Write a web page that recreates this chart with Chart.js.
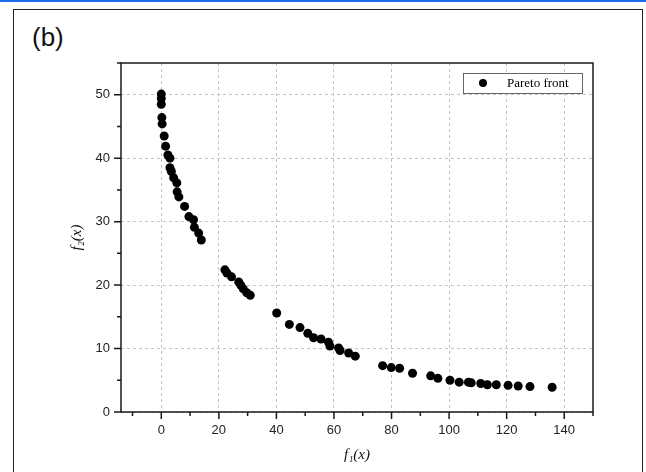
<!DOCTYPE html>
<html>
<head>
<meta charset="utf-8">
<script src="https://cdn.jsdelivr.net/npm/chart.js@4.4.0/dist/chart.umd.min.js"></script>
<style>
  html, body { margin: 0; padding: 0; background: #fff; }
  #wrap { position: relative; width: 646px; height: 472px; overflow: hidden; background: #fff; }
  #topline { position: absolute; left: 0; top: 0; width: 646px; height: 2px; background: #1a6fe8; }
  #frame { position: absolute; left: 13px; top: 9px; width: 628px; height: 480px; border: 1.5px solid #222; }
  #tag { position: absolute; left: 32px; top: 24px; font: 26px 'Liberation Sans', Arial, sans-serif; line-height: 1; color: #111; }
  canvas { position: absolute; left: 0; top: 0; }
</style>
</head>
<body>
<div id="wrap">
  <div id="topline"></div>
  <div id="frame"></div>
  <div id="tag">(b)</div>
  <canvas id="paretoChart" width="646" height="472"></canvas>
</div>
<script>
// Pareto front points
const f1Values = [
    0.0, 0.0, 0.0, 0.2, 0.3, 1.0, 1.5, 2.3, 3.0, 3.0, 3.5, 4.3, 5.4, 5.5, 6.1,
    8.1, 9.6, 11.2, 11.5, 13.0, 13.9,
    22.1, 22.8, 24.4, 26.9, 27.6, 28.5, 29.7, 30.9,
    40.1, 44.5, 48.2, 50.9, 52.9, 55.5, 58.1, 58.6, 61.6, 62.1, 65.1, 67.4,
    76.9, 79.9, 82.8, 87.3, 93.6, 96.1, 100.3, 103.5, 106.7, 107.7, 111.0,
    113.3, 116.4, 120.5, 124.0, 128.1, 135.8
];
const f2Values = [
    50.1, 49.4, 48.5, 46.4, 45.4, 43.5, 41.9, 40.5, 40.0, 38.5, 37.9, 36.9, 36.1, 34.7, 33.9,
    32.4, 30.8, 30.3, 29.1, 28.2, 27.1,
    22.4, 21.9, 21.3, 20.5, 20.0, 19.4, 18.8, 18.4,
    15.6, 13.8, 13.3, 12.4, 11.7, 11.5, 11.0, 10.4, 10.1, 9.7, 9.3, 8.8,
    7.3, 7.0, 6.9, 6.1, 5.7, 5.3, 5.0, 4.7, 4.7, 4.6, 4.5,
    4.3, 4.3, 4.2, 4.1, 4.0, 3.9
];

// Axis ticks
const xMajorTicks = [0, 20, 40, 60, 80, 100, 120, 140];
const xMinorTicks = [-10, 10, 30, 50, 70, 90, 110, 130, 150];
const yMajorTicks = [0, 10, 20, 30, 40, 50];
const yMinorTicks = [5, 15, 25, 35, 45, 55];

const seriesLabel = 'Pareto front';

const tickFont = { family: "'Liberation Sans', Arial, sans-serif", size: 13 };
const titleFont = { family: "'Liberation Serif', 'Times New Roman', serif", size: 15, style: 'italic' };

// Plot frame, outward tick marks and the in-plot legend
const framePlugin = {
    id: 'frame',
    afterDraw(chart) {
        const { ctx, chartArea: a, scales: { x, y } } = chart;
        ctx.save();
        ctx.strokeStyle = '#1a1a1a';
        ctx.lineWidth = 1.5;
        ctx.strokeRect(a.left, a.top, a.right - a.left, a.bottom - a.top);

        ctx.beginPath();
        xMajorTicks.forEach(v => {
            const px = x.getPixelForValue(v);
            ctx.moveTo(px, a.bottom); ctx.lineTo(px, a.bottom + 7);
        });
        xMinorTicks.forEach(v => {
            const px = x.getPixelForValue(v);
            ctx.moveTo(px, a.bottom); ctx.lineTo(px, a.bottom + 4);
        });
        yMajorTicks.forEach(v => {
            const py = y.getPixelForValue(v);
            ctx.moveTo(a.left, py); ctx.lineTo(a.left - 7, py);
        });
        yMinorTicks.forEach(v => {
            const py = y.getPixelForValue(v);
            ctx.moveTo(a.left, py); ctx.lineTo(a.left - 4, py);
        });
        ctx.stroke();

        // legend box
        const lx = a.right - 130, ly = a.top + 10, lw = 119, lh = 20;
        ctx.fillStyle = '#fff';
        ctx.fillRect(lx, ly, lw, lh);
        ctx.strokeStyle = '#666';
        ctx.lineWidth = 1;
        ctx.strokeRect(lx + 0.5, ly + 0.5, lw, lh);
        ctx.fillStyle = '#000';
        ctx.beginPath();
        ctx.arc(lx + 20, ly + 10, 4, 0, Math.PI * 2);
        ctx.fill();
        ctx.font = "13px 'Liberation Serif', 'Times New Roman', serif";
        ctx.textBaseline = 'middle';
        ctx.fillText(seriesLabel, lx + 44, ly + 11);
        ctx.restore();
    }
};

new Chart(document.getElementById('paretoChart'), {
    type: 'scatter',
    data: {
        datasets: [{
            label: seriesLabel,
            data: f1Values.map((v, i) => ({ x: v, y: f2Values[i] })),
            backgroundColor: '#000',
            borderWidth: 0,
            pointRadius: 4.5,
            pointHoverRadius: 4.5
        }]
    },
    options: {
        responsive: false,
        animation: false,
        devicePixelRatio: 1,
        layout: {
            padding: { left: 0, right: 53, top: 63, bottom: 0 }
        },
        plugins: {
            legend: { display: false },
            tooltip: { enabled: false }
        },
        scales: {
            x: {
                type: 'linear',
                min: -14,
                max: 150,
                afterBuildTicks: scale => {
                    scale.ticks = xMajorTicks.map(v => ({ value: v }));
                },
                afterFit: scale => { scale.height = 60; },
                ticks: {
                    color: '#222',
                    font: tickFont,
                    padding: 11,
                    maxRotation: 0
                },
                grid: {
                    color: '#c4c4c4',
                    lineWidth: 1,
                    drawTicks: false
                },
                border: { display: false, dash: [3, 3] },
                title: {
                    display: true,
                    text: 'f\u2081(x)',
                    color: '#111',
                    font: titleFont,
                    padding: { top: 0, bottom: 8 }
                }
            },
            y: {
                type: 'linear',
                min: 0,
                max: 55,
                afterBuildTicks: scale => {
                    scale.ticks = yMajorTicks.map(v => ({ value: v }));
                },
                afterFit: scale => { scale.width = 121; },
                ticks: {
                    color: '#222',
                    font: tickFont,
                    padding: 11
                },
                grid: {
                    color: '#c4c4c4',
                    lineWidth: 1,
                    drawTicks: false
                },
                border: { display: false, dash: [3, 3] },
                title: {
                    display: true,
                    text: 'f\u2082(x)',
                    color: '#111',
                    font: titleFont,
                    padding: { top: 68, bottom: 0 }
                }
            }
        }
    },
    plugins: [framePlugin]
});
</script>
</body>
</html>
